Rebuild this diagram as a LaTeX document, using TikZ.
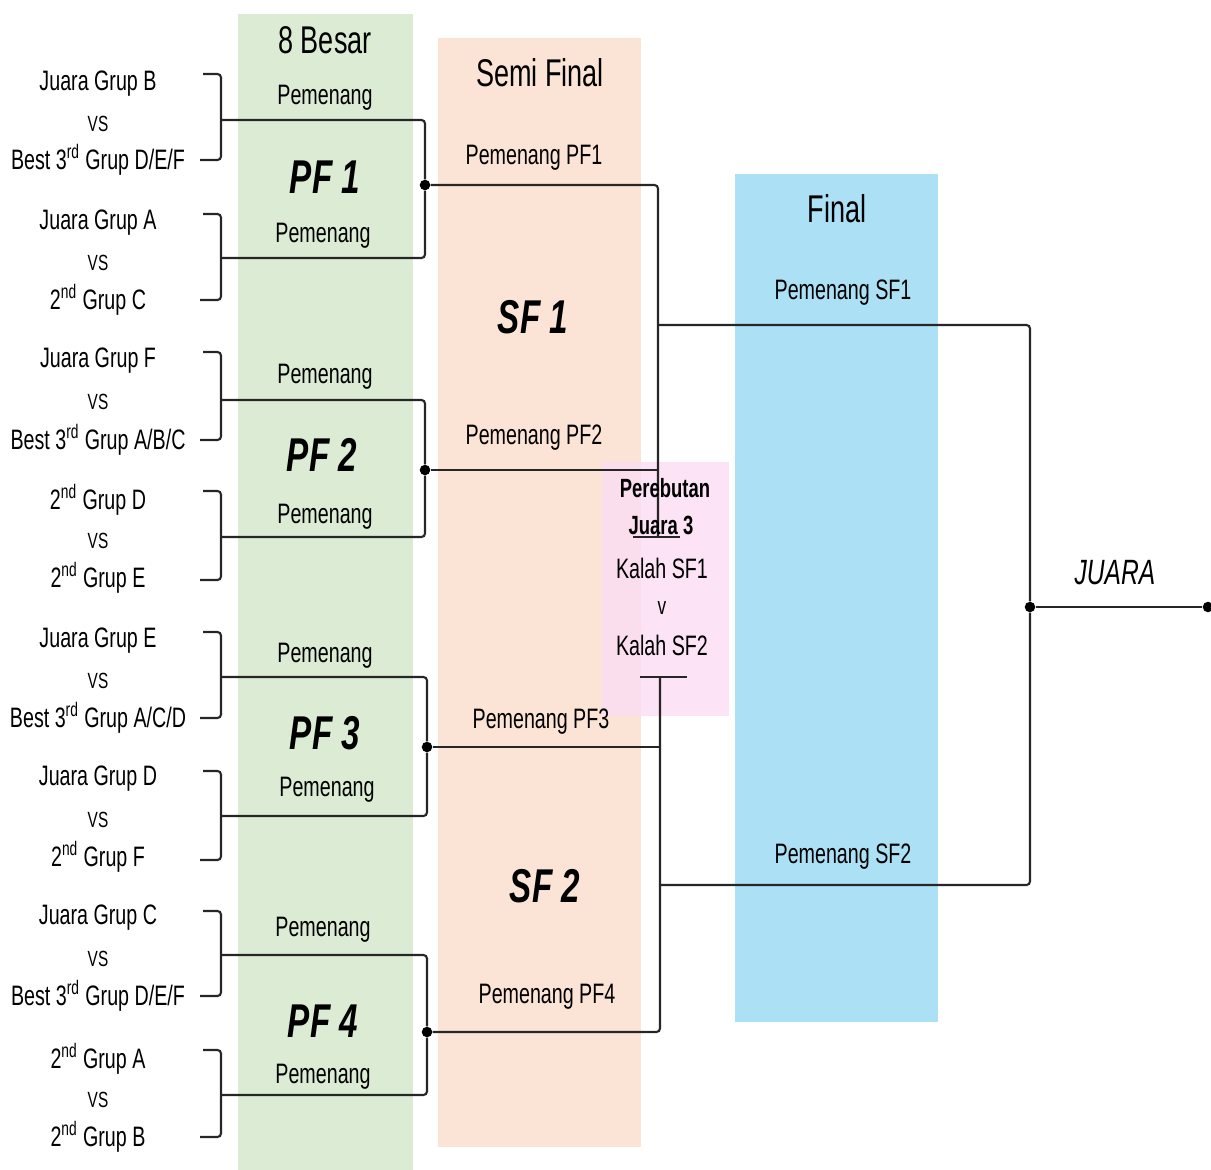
\documentclass[tikz,border=0pt]{standalone}
\usepackage{fontspec}
\setmainfont{Liberation Sans}[FakeStretch=0.7]
\usetikzlibrary{positioning}
\definecolor{besar}{RGB}{220,235,212}
\definecolor{semi}{RGB}{251,228,213}
\definecolor{final}{RGB}{172,225,245}
\definecolor{tiga}{RGB}{252,222,243}
\tikzstyle{line} = [line width=1.2pt,black!85,rounded corners=2pt]
\tikzstyle{dot} = [circle,fill=black,inner sep=0pt,minimum size=6pt]
\tikzstyle{team} = [font=\fontsize{16}{18}\selectfont]
\tikzstyle{vs} = [font=\fontsize{12.5}{14}\selectfont]
\tikzstyle{win} = [font=\fontsize{16}{18}\selectfont]
\tikzstyle{match} = [font=\fontsize{27}{30}\selectfont\bfseries\itshape]
\tikzstyle{head} = [font=\fontsize{22}{26}\selectfont]

\begin{document}
\begin{tikzpicture}[x=0.02cm,y=-0.02cm]
\useasboundingbox (0,0) rectangle (1211,1170);

% kolom
\fill[besar] (238,14) rectangle (413,1170);
\fill[semi] (438,38) rectangle (641,1147);
\fill[final] (735,174) rectangle (938,1022);
\fill[tiga,opacity=0.85] (602,462) rectangle (729,716);

\node[head] (h8) at (325,40) {8 Besar};
\node[head] (hsf) at (540,73) {Semi Final};
\node[head] (hf) at (837,209) {Final};

% 8 besar: tim
\node[team] (t1a) at (98,84) {Juara Grup B};
\node[vs] (v1) at (98,124) {VS};
\node[team] (t1b) at (98,160) {Best 3\textsuperscript{rd} Grup D/E/F};
\node[team] (t2a) at (98,223) {Juara Grup A};
\node[vs] (v2) at (98,263) {VS};
\node[team] (t2b) at (98,300) {2\textsuperscript{nd} Grup C};
\node[team] (t3a) at (98,361) {Juara Grup F};
\node[vs] (v3) at (98,402) {VS};
\node[team] (t3b) at (98,440) {Best 3\textsuperscript{rd} Grup A/B/C};
\node[team] (t4a) at (98,500) {2\textsuperscript{nd} Grup D};
\node[vs] (v4) at (98,541) {VS};
\node[team] (t4b) at (98,578) {2\textsuperscript{nd} Grup E};
\node[team] (t5a) at (98,641) {Juara Grup E};
\node[vs] (v5) at (98,681) {VS};
\node[team] (t5b) at (98,718) {Best 3\textsuperscript{rd} Grup A/C/D};
\node[team] (t6a) at (98,779) {Juara Grup D};
\node[vs] (v6) at (98,820) {VS};
\node[team] (t6b) at (98,857) {2\textsuperscript{nd} Grup F};
\node[team] (t7a) at (98,918) {Juara Grup C};
\node[vs] (v7) at (98,959) {VS};
\node[team] (t7b) at (98,996) {Best 3\textsuperscript{rd} Grup D/E/F};
\node[team] (t8a) at (98,1059) {2\textsuperscript{nd} Grup A};
\node[vs] (v8) at (98,1100) {VS};
\node[team] (t8b) at (98,1137) {2\textsuperscript{nd} Grup B};

% kurung
\draw[line] (203,74) -- (221,74) -- (221,160) -- (200,160);
\draw[line] (203,214) -- (221,214) -- (221,300) -- (200,300);
\draw[line] (203,352) -- (221,352) -- (221,440) -- (200,440);
\draw[line] (203,491) -- (221,491) -- (221,580) -- (200,580);
\draw[line] (203,632) -- (221,632) -- (221,718) -- (200,718);
\draw[line] (203,771) -- (221,771) -- (221,860) -- (200,860);
\draw[line] (203,911) -- (221,911) -- (221,996) -- (200,996);
\draw[line] (203,1050) -- (221,1050) -- (221,1137) -- (200,1137);

\coordinate (m1) at (221,120);
\coordinate (m2) at (221,258);
\coordinate (m3) at (221,400);
\coordinate (m4) at (221,537);
\coordinate (m5) at (221,677);
\coordinate (m6) at (221,816);
\coordinate (m7) at (221,955);
\coordinate (m8) at (221,1095);

\node[dot] (pf1) at (425,185) {};
\node[dot] (pf2) at (425,470) {};
\node[dot] (pf3) at (427,747) {};
\node[dot] (pf4) at (427,1032) {};

\draw[line] (m1) -| (pf1);
\draw[line] (m2) -| (pf1);
\draw[line] (m3) -| (pf2);
\draw[line] (m4) -| (pf2);
\draw[line] (m5) -| (pf3);
\draw[line] (m6) -| (pf3);
\draw[line] (m7) -| (pf4);
\draw[line] (m8) -| (pf4);

\node[win] (w1a) at (325,98) {Pemenang};
\node[win] (w1b) at (323,236) {Pemenang};
\node[win] (w2a) at (325,377) {Pemenang};
\node[win] (w2b) at (325,517) {Pemenang};
\node[win] (w3a) at (325,656) {Pemenang};
\node[win] (w3b) at (327,790) {Pemenang};
\node[win] (w4a) at (323,930) {Pemenang};
\node[win] (w4b) at (323,1077) {Pemenang};

\node[match] (n1) at (325,177) {PF 1};
\node[match] (n2) at (322,455) {PF 2};
\node[match] (n3) at (325,733) {PF 3};
\node[match] (n4) at (323,1021) {PF 4};

% semi final
\coordinate (k1) at (658,537);
\coordinate (k2) at (660,677);
\coordinate (sf1) at (658,325);
\coordinate (sf2) at (660,885);
\draw[line] (pf1) -| (k1);
\draw[line] (pf2) -- (pf2 -| k1);
\draw[line] (pf4) -| (k2);
\draw[line] (pf3) -- (pf3 -| k2);
\draw[line] (633,537) -- (680,537);
\draw[line] (640,677) -- (687,677);

\node[win] (s1) at (534,158) {Pemenang PF1};
\node[win] (s2) at (534,438) {Pemenang PF2};
\node[win] (s3) at (541,722) {Pemenang PF3};
\node[win] (s4) at (547,997) {Pemenang PF4};
\node[match] (ns1) at (533,317) {SF 1};
\node[match] (ns2) at (545,886) {SF 2};

% perebutan juara 3
\node[win,font=\fontsize{15}{17}\selectfont\bfseries] (p1) at (665,488) {Perebutan};
\node[win,font=\fontsize{15}{17}\selectfont\bfseries] (p2) at (661,525) {Juara 3};
\node[win] (p3) at (662,568) {Kalah SF1};
\node[font=\fontsize{14}{16}\selectfont] (p4) at (662,608) {v};
\node[win] (p5) at (662,645) {Kalah SF2};

% final
\node[dot] (juara) at (1030,607) {};
\node[dot] (champ) at (1208,607) {};
\draw[line] (sf1) -| (juara);
\draw[line] (sf2) -| (juara);
\draw[line] (juara) -- (champ);
\node[win] (f1) at (843,293) {Pemenang SF1};
\node[win] (f2) at (843,857) {Pemenang SF2};
\node[font=\fontsize{20}{24}\selectfont\itshape] (jl) at (1115,573) {JUARA};
\end{tikzpicture}
\end{document}
